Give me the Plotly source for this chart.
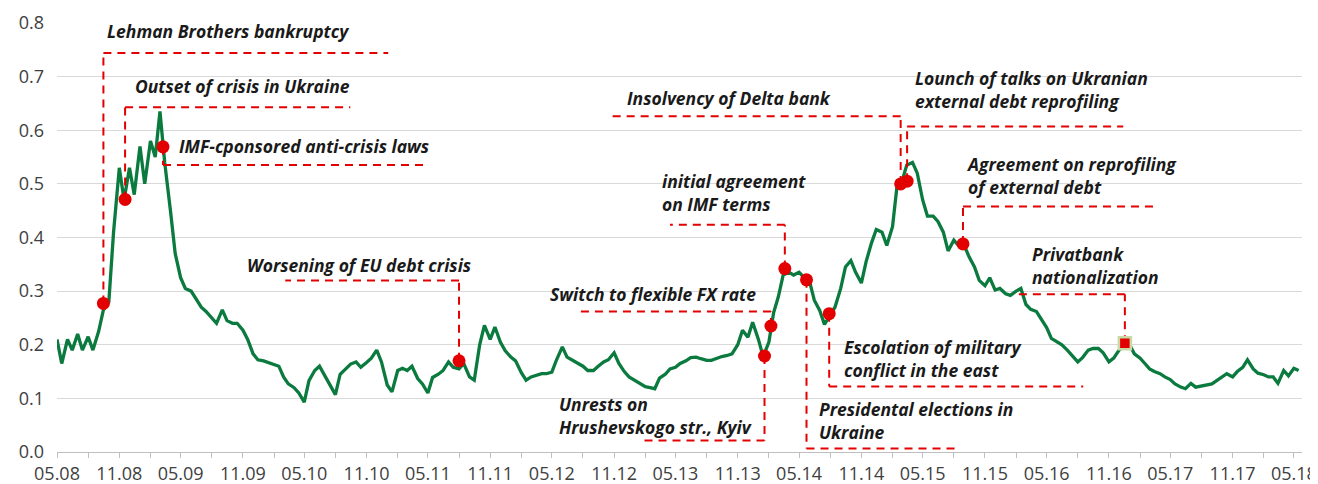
import plotly.graph_objects as go
import pandas as pd

# ---------------- data ----------------
series_start = "2008-05-01"   # semi-monthly observations (1st and 15th)
stress_index = [
    # 2008 May - Dec
    0.21, 0.165, 0.21, 0.19, 0.22, 0.19, 0.215, 0.19, 0.225, 0.265, 0.28, 0.41, 0.53, 0.47, 0.53, 0.48,
    # 2009
    0.57, 0.50, 0.58, 0.55, 0.635, 0.54, 0.45, 0.37, 0.325, 0.305, 0.30, 0.285, 0.27, 0.262, 0.25, 0.24,
    0.265, 0.245, 0.24, 0.24, 0.227, 0.21, 0.183, 0.172,
    # 2010
    0.17, 0.167, 0.163, 0.16, 0.14, 0.127, 0.12, 0.11, 0.093, 0.133, 0.152, 0.16, 0.142, 0.125, 0.107, 0.145,
    0.155, 0.164, 0.168, 0.158, 0.167, 0.175, 0.19, 0.168,
    # 2011
    0.125, 0.112, 0.152, 0.156, 0.152, 0.16, 0.137, 0.127, 0.11, 0.139, 0.145, 0.152, 0.168, 0.158, 0.155, 0.165,
    0.14, 0.134, 0.20, 0.236, 0.21, 0.233, 0.205, 0.189,
    # 2012
    0.177, 0.17, 0.148, 0.134, 0.14, 0.143, 0.146, 0.146, 0.149, 0.172, 0.196, 0.177, 0.171, 0.165, 0.16, 0.152,
    0.152, 0.16, 0.168, 0.172, 0.185, 0.165, 0.15, 0.14,
    # 2013
    0.134, 0.128, 0.122, 0.12, 0.118, 0.138, 0.145, 0.155, 0.158, 0.165, 0.17, 0.176, 0.177, 0.174, 0.171, 0.171,
    0.175, 0.178, 0.18, 0.183, 0.20, 0.227, 0.214, 0.242,
    # 2014
    0.21, 0.178, 0.205, 0.26, 0.29, 0.33, 0.335, 0.33, 0.335, 0.326, 0.318, 0.283, 0.264, 0.238, 0.255, 0.27,
    0.305, 0.345, 0.357, 0.335, 0.315, 0.355, 0.39, 0.415,
    # 2015
    0.41, 0.385, 0.42, 0.50, 0.505, 0.535, 0.54, 0.52, 0.47, 0.44, 0.44, 0.43, 0.41, 0.375, 0.395, 0.385,
    0.385, 0.364, 0.345, 0.32, 0.31, 0.325, 0.302, 0.305,
    # 2016
    0.295, 0.292, 0.30, 0.305, 0.275, 0.266, 0.262, 0.248, 0.232, 0.212, 0.206, 0.20, 0.19, 0.18, 0.168, 0.176,
    0.19, 0.193, 0.193, 0.185, 0.168, 0.175, 0.19, 0.198,
    # 2017
    0.20, 0.183, 0.175, 0.165, 0.155, 0.15, 0.146, 0.14, 0.135, 0.127, 0.121, 0.118, 0.128, 0.121, 0.123, 0.125,
    0.127, 0.133, 0.14, 0.146, 0.14, 0.15, 0.158, 0.172,
    # 2018 Jan - May
    0.155, 0.147, 0.144, 0.14, 0.14, 0.128, 0.152, 0.142, 0.156, 0.152,
]

event_labels = [
    "Lehman Brothers bankruptcy",
    "Outset of crisis in Ukraine",
    "IMF-cponsored anti-crisis laws",
    "Worsening of EU debt crisis",
    "Unrests on<br>Hrushevskogo str., Kyiv",
    "Switch to flexible FX rate",
    "initial agreement<br>on IMF terms",
    "Presidental elections in<br>Ukraine",
    "Escolation of military<br>conflict in the east",
    "Insolvency of Delta bank",
    "Lounch of talks on Ukranian<br>external debt reprofiling",
    "Agreement on reprofiling<br>of external debt",
    "Privatbank<br>nationalization",
]
event_dates = [
    "2008-09-15", "2008-11-18", "2009-03-10", "2011-08-01", "2014-01-19", "2014-02-07",
    "2014-03-20", "2014-05-23", "2014-07-29", "2015-02-25", "2015-03-16", "2015-08-28",
    "2016-12-18",
]
event_values = [
    0.277, 0.471, 0.569, 0.170, 0.179, 0.235, 0.342, 0.321, 0.258, 0.500, 0.505, 0.388, 0.203,
]

# ---------------- annotation layout (positions of labels and leader lines) ----------------
label_x = [
    "2008-09-21", "2008-12-12", "2009-04-20", "2009-11-08", "2012-05-16", "2012-04-20",
    "2013-03-16", "2014-06-22", "2014-09-06", "2012-12-04", "2015-04-02", "2015-09-01",
    "2016-03-13",
]
label_y = [0.785, 0.682, 0.570, 0.348, 0.069, 0.294, 0.483, 0.0585, 0.1735, 0.661, 0.6755, 0.5155, 0.3475]
leader_y = [0.744, 0.643, 0.535, 0.320, 0.0215, 0.262, 0.424, 0.0065, 0.122, 0.626, 0.607, 0.458, 0.294]
leader_end = [
    "2011-01-04", "2010-09-14", "2011-04-22", "2010-03-06", "2013-01-25", "2012-07-18",
    "2013-04-15", "2015-08-10", "2016-08-17", "2012-10-21", "2016-12-13", "2017-03-28",
    "2016-01-24",
]

dates = pd.date_range(series_start, periods=len(stress_index), freq="SMS")

GREEN = "#0b7a3f"
RED = "#e30000"
TXT_FONT = "Open Sans"
BODY_MARGIN = 8  # the html page body has a default 8px margin

fig = go.Figure()
fig.add_trace(go.Scatter(
    x=dates, y=stress_index, mode="lines",
    line=dict(color=GREEN, width=3.3), hoverinfo="skip", showlegend=False,
))

# leader lines: vertical from the event point to the label level, then horizontal under the label
lx, ly = [], []
for d, v, yl, xe in zip(event_dates, event_values, leader_y, leader_end):
    lx += [d, d, None, d, xe, None]
    ly += [v, yl, None, yl, yl, None]
fig.add_trace(go.Scatter(
    x=lx, y=ly, mode="lines", line=dict(color=RED, width=2, dash="8px,6px"),
    hoverinfo="skip", showlegend=False,
))

fig.add_trace(go.Scatter(
    x=event_dates[:-1], y=event_values[:-1], mode="markers",
    marker=dict(color=RED, size=13, line=dict(width=0)), showlegend=False,
))
fig.add_trace(go.Scatter(
    x=event_dates[-1:], y=event_values[-1:], mode="markers",
    marker=dict(color=RED, size=12, symbol="square", line=dict(color="#c9d9a6", width=2.5)),
    showlegend=False,
))

for txt, x, y in zip(event_labels, label_x, label_y):
    fig.add_annotation(
        x=x, y=y, xref="x", yref="y", text="<b><i>" + txt + "</i></b>",
        showarrow=False, xanchor="left", yanchor="middle", align="left",
        font=dict(family=TXT_FONT, size=17.5, color="#1a1a1a"),
    )

fig.update_layout(
    width=1318 - BODY_MARGIN, height=484 - BODY_MARGIN,
    margin=dict(l=57 - BODY_MARGIN, r=16, t=23 - BODY_MARGIN, b=32, autoexpand=False),
    paper_bgcolor="white", plot_bgcolor="white",
    font=dict(family=TXT_FONT, size=18, color="#404040"),
    showlegend=False,
)
fig.update_xaxes(
    type="date", range=["2008-05-01", "2018-05-25"],
    tick0="2008-05-01", dtick="M6", tickformat="%m.%y",
    ticks="outside", ticklen=5, tickcolor="#bfbfbf", tickwidth=1,
    showline=True, linecolor="#bfbfbf", linewidth=1,
    showgrid=False, zeroline=False,
    minor=dict(dtick="M3", tick0="2008-05-01", ticks="outside", ticklen=5, tickcolor="#bfbfbf", showgrid=False),
    tickfont=dict(family=TXT_FONT, size=18, color="#404040"),
)
fig.update_yaxes(
    range=[0, 0.8], dtick=0.1, tick0=0, tickformat=".1f",
    showgrid=True, gridcolor="#d9d9d9", gridwidth=1,
    zeroline=False, showline=False, ticks="",
    ticklabelstandoff=12,
    tickfont=dict(family=TXT_FONT, size=18, color="#404040"),
)

fig.write_html("out.html")
